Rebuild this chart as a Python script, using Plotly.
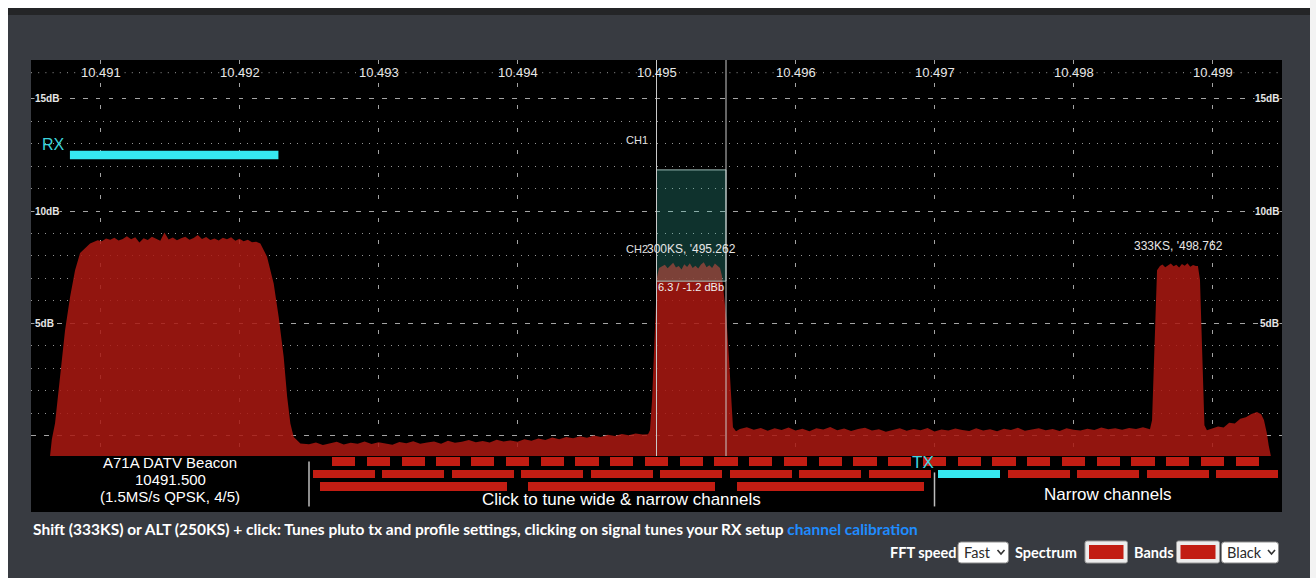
import plotly.graph_objects as go

ARIAL = "Arial, 'Liberation Sans', sans-serif"
UI_FONT = "Lato, 'Open Sans', sans-serif"

# ---------------- spectrum (frequency in MHz, level in dB) ----------------
beacon_f = [10490.637, 10490.650, 10490.673, 10490.709, 10490.745, 10490.781, 10490.817, 10490.853, 10490.901, 10490.925,
            10490.95, 10490.98, 10491.01, 10491.04, 10491.07, 10491.10, 10491.13, 10491.16, 10491.19, 10491.22,
            10491.25, 10491.28, 10491.31, 10491.34, 10491.37, 10491.40, 10491.43, 10491.46, 10491.49, 10491.52,
            10491.55, 10491.58, 10491.61, 10491.64, 10491.67, 10491.70, 10491.73, 10491.76, 10491.79, 10491.82,
            10491.85, 10491.88, 10491.91, 10491.94, 10491.97, 10492.00, 10492.03, 10492.06, 10492.09, 10492.12,
            10492.150, 10492.198, 10492.246, 10492.282, 10492.318, 10492.343, 10492.366, 10492.390, 10492.438]
beacon_db = [-0.90, -0.15, 0.56, 2.61, 4.70, 6.17, 7.37, 8.13, 8.40, 8.55,
             8.62, 8.70, 8.66, 8.78, 8.72, 8.81, 8.69, 8.76, 8.88, 8.74,
             8.83, 8.60, 8.79, 8.71, 8.86, 8.77, 8.68, 9.04, 8.73, 8.82,
             8.70, 8.79, 8.85, 8.72, 8.80, 8.93, 8.76, 8.84, 8.71, 8.78,
             8.69, 8.81, 8.74, 8.83, 8.68, 8.77, 8.66, 8.72, 8.61, 8.63,
             8.56, 7.97, 6.78, 5.29, 3.51, 1.73, 0.55, -0.05, -0.34]

floor_a_f = [10492.50, 10492.55, 10492.60, 10492.65, 10492.70, 10492.75, 10492.80, 10492.85, 10492.90, 10492.95,
             10493.00, 10493.05, 10493.10, 10493.15, 10493.20, 10493.25, 10493.30, 10493.35, 10493.40, 10493.45,
             10493.50, 10493.55, 10493.60, 10493.65, 10493.70, 10493.75, 10493.80, 10493.85, 10493.90, 10493.95,
             10494.00, 10494.05, 10494.10, 10494.15, 10494.20, 10494.25, 10494.30, 10494.35, 10494.40, 10494.45,
             10494.50, 10494.55, 10494.60, 10494.65, 10494.70, 10494.75, 10494.80, 10494.85, 10494.90]
floor_a_db = [-0.38, -0.30, -0.41, -0.33, -0.27, -0.39, -0.31, -0.36, -0.25, -0.37,
              -0.29, -0.34, -0.40, -0.28, -0.33, -0.24, -0.35, -0.30, -0.26, -0.36,
              -0.22, -0.31, -0.27, -0.19, -0.29, -0.23, -0.30, -0.18, -0.25, -0.21,
              -0.27, -0.15, -0.22, -0.12, -0.19, -0.08, -0.15, -0.05, -0.11, -0.02,
              -0.09, 0.01, -0.06, 0.05, -0.01, 0.08, 0.02, 0.10, 0.06]

ch2_f = [10494.939, 10494.953, 10494.968, 10494.978, 10494.989, 10495.004, 10495.018,
         10495.04, 10495.06, 10495.08, 10495.10, 10495.12, 10495.14, 10495.16, 10495.18, 10495.20, 10495.22,
         10495.24, 10495.26, 10495.28, 10495.30, 10495.32, 10495.34, 10495.36, 10495.38, 10495.40, 10495.42, 10495.44,
         10495.457, 10495.471, 10495.486, 10495.504, 10495.522, 10495.536, 10495.550, 10495.572]
ch2_db = [0.07, 0.25, 1.58, 3.05, 5.28, 7.06, 7.46,
          7.52, 7.61, 7.45, 7.58, 7.70, 7.49, 7.55, 7.40, 7.63, 7.51,
          7.68, 7.47, 7.57, 7.44, 7.62, 7.72, 7.50, 7.59, 7.46, 7.66, 7.53,
          7.46, 7.11, 6.26, 5.15, 3.37, 1.59, 0.38, 0.20]

floor_b_f = [10495.60, 10495.65, 10495.70, 10495.75, 10495.80, 10495.85, 10495.90, 10495.95,
             10496.00, 10496.05, 10496.10, 10496.15, 10496.20, 10496.25, 10496.30, 10496.35, 10496.40, 10496.45,
             10496.50, 10496.55, 10496.60, 10496.65, 10496.70, 10496.75, 10496.80, 10496.85, 10496.90, 10496.95,
             10497.00, 10497.05, 10497.10, 10497.15, 10497.20, 10497.25, 10497.30, 10497.35, 10497.40, 10497.45,
             10497.50, 10497.55, 10497.60, 10497.65, 10497.70, 10497.75, 10497.80, 10497.85, 10497.90, 10497.95,
             10498.00, 10498.05, 10498.10, 10498.15, 10498.20, 10498.25, 10498.30, 10498.35, 10498.40, 10498.45,
             10498.50, 10498.54]
floor_b_db = [0.30, 0.38, 0.27, 0.35, 0.22, 0.33, 0.26, 0.37,
              0.24, 0.31, 0.20, 0.34, 0.28, 0.39, 0.25, 0.32, 0.21, 0.30,
              0.36, 0.23, 0.29, 0.18, 0.27, 0.33, 0.22, 0.30, 0.25, 0.35,
              0.19, 0.28, 0.23, 0.32, 0.26, 0.21, 0.34, 0.24, 0.29, 0.20,
              0.31, 0.26, 0.36, 0.22, 0.28, 0.33, 0.25, 0.30, 0.21, 0.34,
              0.27, 0.23, 0.31, 0.26, 0.37, 0.29, 0.33, 0.27, 0.35, 0.30,
              0.38, 0.33]

narrow_f = [10498.550, 10498.565, 10498.579, 10498.590, 10498.601, 10498.622,
            10498.64, 10498.66, 10498.68, 10498.70, 10498.72, 10498.74, 10498.76, 10498.78, 10498.80,
            10498.82, 10498.84, 10498.86, 10498.88,
            10498.895, 10498.910, 10498.921, 10498.932, 10498.942, 10498.960]
narrow_db = [0.29, 0.69, 3.37, 6.04, 7.37, 7.55,
             7.62, 7.50, 7.58, 7.66, 7.54, 7.61, 7.49, 7.64, 7.57,
             7.68, 7.52, 7.60, 7.55,
             7.55, 6.93, 4.70, 2.03, 0.47, 0.25]

tail_f = [10499.00, 10499.04, 10499.08, 10499.12, 10499.16, 10499.20, 10499.24, 10499.28,
          10499.32, 10499.35, 10499.37, 10499.39, 10499.405, 10499.42]
tail_db = [0.33, 0.41, 0.37, 0.58, 0.55, 0.76, 0.82, 0.97,
           1.06, 0.96, 0.70, 0.15, -0.45, -0.90]

# ---------------- axes ----------------
freq_range = [10490.5, 10499.5]
db_range = [-0.9, 16.72]
tick_mhz = [10491, 10492, 10493, 10494, 10495, 10496, 10497, 10498, 10499]
tick_labels = ["10.491", "10.492", "10.493", "10.494", "10.495", "10.496", "10.497", "10.498", "10.499"]
db_major = [0, 5, 10, 15]
db_minor = [1, 2, 3, 4, 6, 7, 8, 9, 11, 12, 13, 14]
db_labelled = [5, 10, 15]
db_labels = ["5dB", "10dB", "15dB"]

# ---------------- band plan (channel centres in MHz) ----------------
row1_centers = [10492.75, 10493.00, 10493.25, 10493.50, 10493.75, 10494.00, 10494.25, 10494.50, 10494.75,
                10495.00, 10495.25, 10495.50, 10495.75, 10496.00, 10496.25, 10496.50, 10496.75, 10497.00,
                10497.25, 10497.50, 10497.75, 10498.00, 10498.25, 10498.50, 10498.75, 10499.00, 10499.25]
row1_width = 0.166
row2_centers = [10492.75, 10493.25, 10493.75, 10494.25, 10494.75, 10495.25, 10495.75,
                10496.25, 10496.75, 10497.25, 10497.75, 10498.25, 10498.75, 10499.25]
row2_width = 0.446
row3_centers = [10493.25, 10494.75, 10496.25]
row3_width = 1.345
tx_channel = 10497.25
rx_center, rx_width = 10491.53, 1.5
ch_window = [10495.0, 10495.5]
wide_split = 10492.5
narrow_split = 10497.0

signal_tags = [(10494.917, 8.31, "300KS, '495.262", "left"),
               (10498.755, 8.44, "333KS, '498.762", "center")]

RED_FILL = "rgba(170,24,18,0.86)"
BAND_RED = "#c21d13"
CYAN = "#36e8f0"
PANEL = "#383b41"
GRID = "rgba(205,205,205,0.8)"
DOT = "rgba(175,175,175,0.85)"

# pixel helpers for the page furniture around the plot
L, T, W, H = 31, 60, 1251, 452


def PX(px):
    return (px - L) / W


def PY(py):
    return (T + H - py) / H


fig = go.Figure()

spec_f = beacon_f + floor_a_f + ch2_f + floor_b_f + narrow_f + tail_f
spec_db = beacon_db + floor_a_db + ch2_db + floor_b_db + narrow_db + tail_db
fig.add_trace(go.Scatter(x=spec_f, y=spec_db, mode="lines", fill="toself",
                         line=dict(width=0, color="rgba(0,0,0,0)"), fillcolor=RED_FILL,
                         hoverinfo="skip", xaxis="x", yaxis="y"))


def band_row(centers, width, row, colors):
    return go.Bar(orientation="h", y=[row] * len(centers), x=[width] * len(centers),
                  base=[c - width / 2 for c in centers], width=0.68,
                  marker=dict(color=colors, line=dict(width=0)),
                  hoverinfo="skip", xaxis="x2", yaxis="y2")


fig.add_trace(band_row(row1_centers, row1_width, 1, BAND_RED))
fig.add_trace(band_row(row2_centers, row2_width, 2,
                       [CYAN if c == tx_channel else BAND_RED for c in row2_centers]))
fig.add_trace(band_row(row3_centers, row3_width, 3, BAND_RED))

shapes = []
# page frame
shapes += [
    dict(type="rect", xref="paper", yref="paper", x0=PX(0), x1=PX(1316), y0=PY(8), y1=PY(0),
         fillcolor="white", line=dict(width=0), layer="above"),
    dict(type="rect", xref="paper", yref="paper", x0=PX(0), x1=PX(8), y0=PY(578), y1=PY(0),
         fillcolor="white", line=dict(width=0), layer="above"),
    dict(type="rect", xref="paper", yref="paper", x0=PX(1310), x1=PX(1316), y0=PY(578), y1=PY(0),
         fillcolor="#f3f3f3", line=dict(width=0), layer="above"),
    dict(type="rect", xref="paper", yref="paper", x0=PX(8), x1=PX(1310), y0=PY(15), y1=PY(8),
         fillcolor="#242527", line=dict(width=0), layer="above"),
]
# dotted row behind the frequency labels
shapes.append(dict(type="line", xref="paper", yref="paper", x0=0, x1=1, y0=PY(72.7), y1=PY(72.7),
                   line=dict(color=DOT, width=1, dash="1px,6.2px"), layer="below"))
# RX channel bar
shapes.append(dict(type="rect", xref="x", yref="y", x0=rx_center - rx_width / 2, x1=rx_center + rx_width / 2,
                   y0=12.30, y1=12.68, fillcolor=CYAN, line=dict(width=0), layer="above"))
# CH window
shapes.append(dict(type="rect", xref="x", yref="y", x0=ch_window[0], x1=ch_window[1], y0=6.88, y1=11.83,
                   fillcolor="rgba(60,200,180,0.25)", line=dict(color="rgba(175,210,205,0.9)", width=1),
                   layer="above"))
for xv in ch_window:
    shapes.append(dict(type="line", xref="x", yref="y domain", x0=xv, x1=xv, y0=0, y1=1,
                       line=dict(color="#c9c9c9", width=1), layer="above"))
# band plan separators
shapes.append(dict(type="line", xref="x2", yref="y2", x0=wide_split, x1=wide_split, y0=0.98, y1=4.58,
                   line=dict(color="#bdbdbd", width=1.5), layer="above"))
shapes.append(dict(type="line", xref="x2", yref="y2", x0=narrow_split, x1=narrow_split, y0=1.86, y1=4.58,
                   line=dict(color="#bdbdbd", width=1.5), layer="above"))


def rrect(x0, y0, x1, y1, r, fill, line_color, lw=1):
    xs = lambda v: f"{PX(v):.5f}"
    ys = lambda v: f"{PY(v):.5f}"
    path = (f"M {xs(x0 + r)},{ys(y0)} L {xs(x1 - r)},{ys(y0)} Q {xs(x1)},{ys(y0)} {xs(x1)},{ys(y0 + r)} "
            f"L {xs(x1)},{ys(y1 - r)} Q {xs(x1)},{ys(y1)} {xs(x1 - r)},{ys(y1)} "
            f"L {xs(x0 + r)},{ys(y1)} Q {xs(x0)},{ys(y1)} {xs(x0)},{ys(y1 - r)} "
            f"L {xs(x0)},{ys(y0 + r)} Q {xs(x0)},{ys(y0)} {xs(x0 + r)},{ys(y0)} Z")
    return dict(type="path", xref="paper", yref="paper", path=path, fillcolor=fill,
                line=dict(color=line_color, width=lw), layer="above")


def chevron(cx, cy):
    path = f"M {PX(cx - 3.5):.5f},{PY(cy - 2):.5f} L {PX(cx):.5f},{PY(cy + 2):.5f} L {PX(cx + 3.5):.5f},{PY(cy - 2):.5f}"
    return dict(type="path", xref="paper", yref="paper", path=path, fillcolor="rgba(0,0,0,0)",
                line=dict(color="#333333", width=1.6), layer="above")


# controls row
shapes.append(rrect(958, 542, 1008.5, 563, 3, "white", "#8c8c8c"))
shapes.append(chevron(1001, 552))
shapes.append(rrect(1085, 541, 1127.5, 563, 2, "#ececec", "#9a9a9a"))
shapes.append(dict(type="rect", xref="paper", yref="paper", x0=PX(1089), x1=PX(1123.5), y0=PY(559), y1=PY(545),
                   fillcolor=BAND_RED, line=dict(width=0), layer="above"))
shapes.append(rrect(1176.5, 541, 1219.5, 563, 2, "#ececec", "#9a9a9a"))
shapes.append(dict(type="rect", xref="paper", yref="paper", x0=PX(1180.5), x1=PX(1215.5), y0=PY(559), y1=PY(545),
                   fillcolor=BAND_RED, line=dict(width=0), layer="above"))
shapes.append(rrect(1221.5, 542, 1278.5, 563, 3, "white", "#8c8c8c"))
shapes.append(chevron(1271.5, 552))

ann = []
for v, lab in zip(tick_mhz, tick_labels):
    ann.append(dict(x=v, y=PY(72.7), xref="x", yref="paper", text=lab, showarrow=False,
                    font=dict(family=ARIAL, size=13, color="#e8e8e8"), xanchor="center", yanchor="middle"))
for v, lab in zip(db_labelled, db_labels):
    ann.append(dict(x=PX(34), y=v, xref="paper", yref="y", text=f"<b>{lab}</b>", showarrow=False,
                    font=dict(family=ARIAL, size=10, color="#e6e6e6"), xanchor="left", yanchor="middle",
                    bgcolor="black", borderpad=0))
    ann.append(dict(x=PX(1280), y=v, xref="paper", yref="y", text=f"<b>{lab}</b>", showarrow=False,
                    font=dict(family=ARIAL, size=10, color="#e6e6e6"), xanchor="right", yanchor="middle",
                    bgcolor="black", borderpad=0))

ann.append(dict(x=10490.565, y=12.97, xref="x", yref="y", text="RX", showarrow=False,
                font=dict(family=ARIAL, size=16, color="#3dd4dc"), xanchor="left", yanchor="middle"))
ann.append(dict(x=10494.953, y=13.16, xref="x", yref="y", text="CH1", showarrow=False,
                font=dict(family=ARIAL, size=11, color="#e2e2e2"), xanchor="right", yanchor="middle"))
ann.append(dict(x=10494.953, y=8.31, xref="x", yref="y", text="CH2", showarrow=False,
                font=dict(family=ARIAL, size=11, color="#e2e2e2"), xanchor="right", yanchor="middle"))
for xv, yv, txt, anchor in signal_tags:
    ann.append(dict(x=xv, y=yv, xref="x", yref="y", text=txt, showarrow=False,
                    font=dict(family=ARIAL, size=12, color="#e6e6e6"), xanchor=anchor, yanchor="middle"))
ann.append(dict(x=sum(ch_window) / 2, y=6.62, xref="x", yref="y", text="6.3 / -1.2 dBb", showarrow=False,
                font=dict(family=ARIAL, size=11, color="#f0f0f0"), xanchor="center", yanchor="middle"))

# band plan captions
beacon_lines = [("A71A DATV Beacon", 1.024), ("10491.500", 2.384), ("(1.5MS/s QPSK, 4/5)", 3.744)]
for txt, yv in beacon_lines:
    ann.append(dict(x=10491.5, y=yv, xref="x2", yref="y2", text=txt, showarrow=False, borderpad=0,
                    font=dict(family=ARIAL, size=15, color="white"), xanchor="center", yanchor="middle"))
ann.append(dict(x=10494.75, y=4.06, xref="x2", yref="y2", text="Click to tune wide &amp; narrow channels",
                showarrow=False, font=dict(family=ARIAL, size=17, color="white"), xanchor="center", yanchor="middle"))
ann.append(dict(x=10498.25, y=3.66, xref="x2", yref="y2", text="Narrow channels",
                showarrow=False, font=dict(family=ARIAL, size=17, color="white"), xanchor="center", yanchor="middle"))
ann.append(dict(x=10496.92, y=1.1, xref="x2", yref="y2", text="TX",
                showarrow=False, font=dict(family=ARIAL, size=17, color="#3ed6e0"), xanchor="center", yanchor="middle"))

# page text below the plot
ann.append(dict(x=PX(31), y=PY(528.5), xref="paper", yref="paper", xanchor="left", yanchor="middle",
                showarrow=False, font=dict(family=UI_FONT, size=15.5, color="white"),
                text="<b>Shift (333KS) or ALT (250KS) + click: Tunes pluto tx and profile settings, clicking on signal "
                     "tunes your RX setup <span style='color:#1f8cff'>channel calibration</span></b>"))
for txt, xpx, col, bold in [("FFT speed", 888, "white", True), ("Fast", 962, "#2a2a2a", False),
                            ("Spectrum", 1013, "white", True), ("Bands", 1132, "white", True),
                            ("Black", 1225, "#2a2a2a", False)]:
    ann.append(dict(x=PX(xpx), y=PY(552.5), xref="paper", yref="paper", xanchor="left", yanchor="middle",
                    showarrow=False, font=dict(family=UI_FONT, size=14.5, color=col),
                    text=f"<b>{txt}</b>" if bold else txt))

fig.update_layout(
    width=1316, height=578,
    margin=dict(l=L, r=1316 - L - W, t=T, b=578 - T - H, pad=0),
    paper_bgcolor=PANEL, plot_bgcolor="black",
    showlegend=False, barmode="overlay", bargap=0,
    xaxis=dict(domain=[0, 1], anchor="y", range=freq_range, tickvals=tick_mhz, showticklabels=False,
               ticks="", showgrid=True, gridcolor=GRID, gridwidth=1, griddash="4px,18.5px",
               zeroline=False, showline=False, fixedrange=True),
    yaxis=dict(domain=[56 / 452, 1], anchor="x", range=db_range, tickvals=db_major, showticklabels=False,
               ticks="", showgrid=True, gridcolor=GRID, gridwidth=1, griddash="4.5px,8.5px",
               minor=dict(tickvals=db_minor, showgrid=True, gridcolor=DOT, gridwidth=1, griddash="1px,6.2px"),
               zeroline=False, showline=False, fixedrange=True),
    xaxis2=dict(domain=[0, 1], anchor="y2", range=freq_range, showticklabels=False, ticks="",
                showgrid=False, zeroline=False, showline=False, fixedrange=True),
    yaxis2=dict(domain=[0, 56 / 452], anchor="x2", range=[5.024, 0.544], showticklabels=False, ticks="",
                showgrid=False, zeroline=False, showline=False, fixedrange=True),
    shapes=shapes, annotations=ann,
)

fig.write_html("out.html")
